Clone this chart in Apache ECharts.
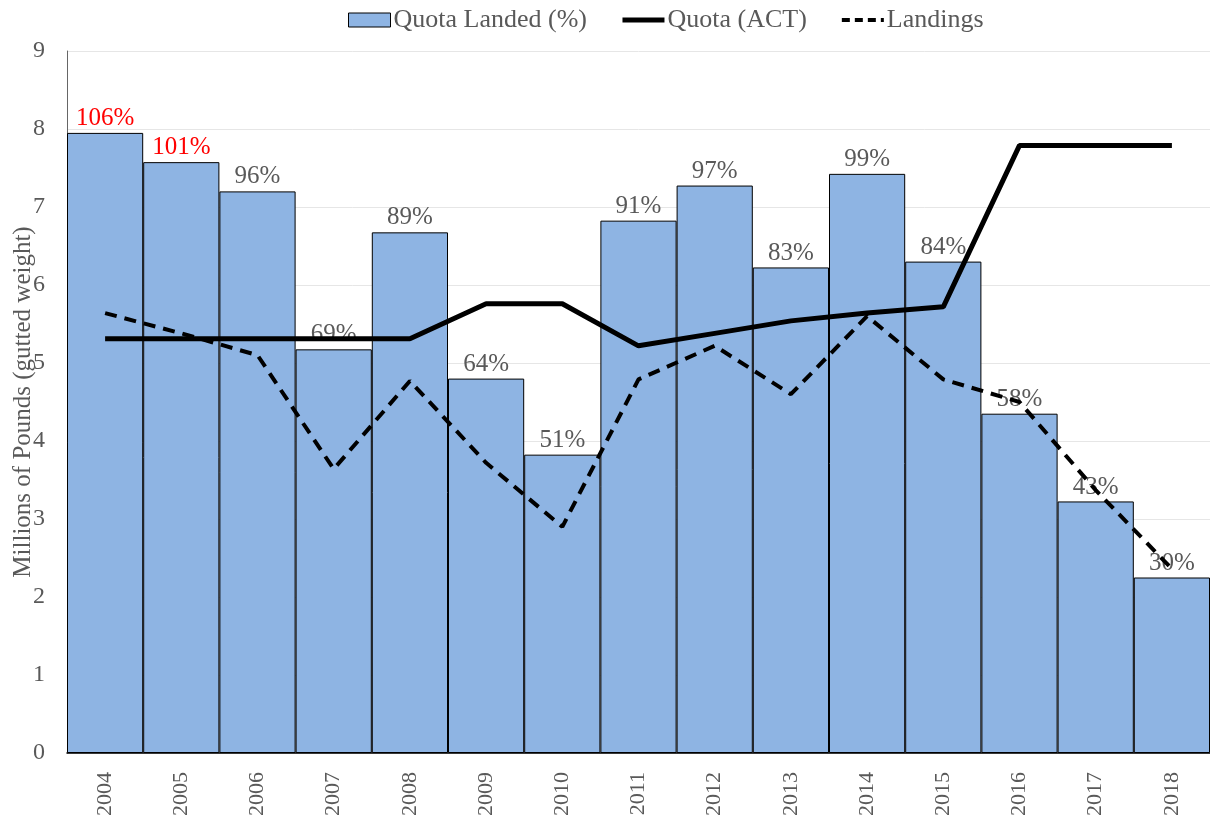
<!DOCTYPE html>
<html>
<head>
<meta charset="utf-8">
<script src="https://cdn.jsdelivr.net/npm/echarts@6/dist/echarts.min.js"></script>
<style>
  html, body { margin: 0; padding: 0; background: #fff; }
  #chart { width: 1210px; height: 824px; }
</style>
</head>
<body>
<div id="chart"></div>
<script>
const years = ['2004', '2005', '2006', '2007', '2008', '2009', '2010', '2011', '2012', '2013', '2014', '2015', '2016', '2017', '2018']
// percent of quota landed (bars, right hidden axis 0-120)
const quotaLanded = [106, 101, 96, 69, 89, 64, 51, 91, 97, 83, 99, 84, 58, 43, 30]
// millions of pounds
const quotaACT = [5.31, 5.31, 5.31, 5.31, 5.31, 5.76, 5.76, 5.22, 5.38, 5.54, 5.64, 5.72, 7.79, 7.79, 7.79]
const landings = [5.64, 5.38, 5.10, 3.64, 4.77, 3.72, 2.90, 4.79, 5.22, 4.60, 5.60, 4.79, 4.50, 3.37, 2.36]
const yTicks = [0, 1, 2, 3, 4, 5, 6, 7, 8, 9]

const font = 'Liberation Serif'
const grey = '#595959'

const barData = quotaLanded.map((v) => ({
  value: v,
  label: { color: v > 100 ? '#ff0000' : grey },
}))

const chart = echarts.init(document.getElementById('chart'))
chart.setOption({
  animation: false,
  textStyle: { fontFamily: font },
  legend: {
    top: 2,
    left: 343,
    itemGap: 33,
    itemWidth: 42,
    itemHeight: 14,
    textStyle: { fontFamily: font, fontSize: 26, color: grey, padding: [0, 0, 0, -2] },
    data: [
      { name: 'Quota Landed (%)', icon: 'rect', itemStyle: { borderColor: '#000', borderWidth: 1 } },
      { name: 'Quota (ACT)', itemStyle: { opacity: 0 }, lineStyle: { width: 5 } },
      { name: 'Landings', itemStyle: { opacity: 0 }, lineStyle: { width: 4, type: [8, 5] } },
    ],
  },
  grid: { left: 67, right: 0, top: 51, bottom: 71, outerBoundsMode: 'none', containLabel: false },
  xAxis: {
    type: 'category',
    data: years,
    axisTick: { show: false },
    axisLine: { show: true, lineStyle: { color: '#000', width: 1.5 } },
    axisLabel: { rotate: 90, fontFamily: font, fontSize: 22, color: grey, margin: 19 },
  },
  yAxis: [
    {
      type: 'value',
      min: 0,
      max: yTicks[yTicks.length - 1],
      interval: 1,
      name: 'Millions of Pounds (gutted weight)',
      nameLocation: 'middle',
      nameGap: 31,
      nameMoveOverlap: false,
      nameTextStyle: { fontFamily: font, fontSize: 25, color: grey },
      axisLine: { show: true, lineStyle: { color: '#666' } },
      axisTick: { show: false },
      axisLabel: { fontFamily: font, fontSize: 24, color: grey, margin: 22 },
      splitLine: { show: true, lineStyle: { color: '#e6e6e6' } },
    },
    {
      type: 'value',
      min: 0,
      max: 120,
      show: false,
      splitLine: { show: false },
    },
  ],
  series: [
    {
      name: 'Quota Landed (%)',
      type: 'bar',
      yAxisIndex: 1,
      barCategoryGap: 0,
      data: barData,
      itemStyle: { color: '#8EB4E3', borderColor: '#000', borderWidth: 1 },
      label: {
        show: true,
        position: 'top',
        distance: 2,
        formatter: '{c}%',
        fontFamily: font,
        fontSize: 25,
      },
      z: 1,
    },
    {
      name: 'Quota (ACT)',
      type: 'line',
      data: quotaACT,
      symbol: 'none',
      lineStyle: { color: '#000', width: 5 },
      itemStyle: { color: '#000' },
      z: 3,
    },
    {
      name: 'Landings',
      type: 'line',
      data: landings,
      symbol: 'none',
      lineStyle: { color: '#000', width: 4, type: [12, 8] },
      itemStyle: { color: '#000' },
      z: 3,
    },
  ],
})
</script>
</body>
</html>
